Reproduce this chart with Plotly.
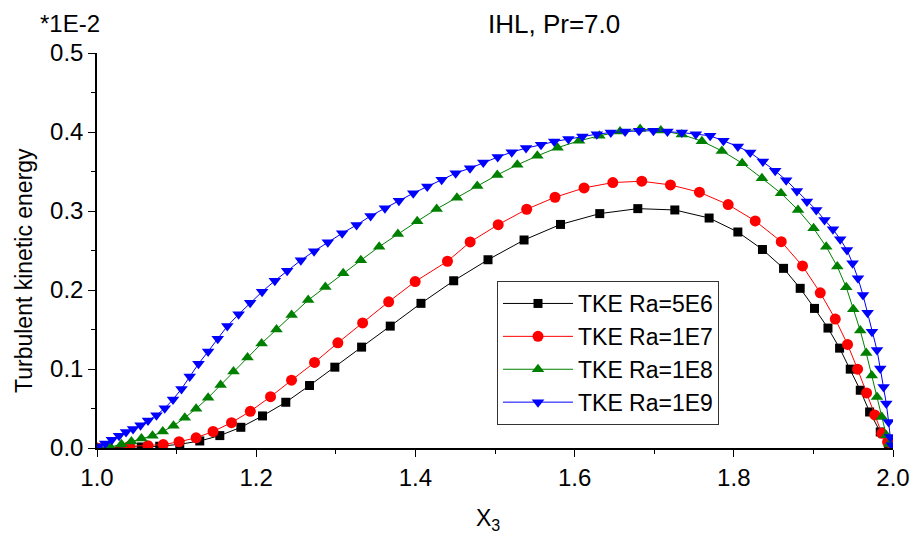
import plotly.graph_objects as go

# Turbulent kinetic energy profiles (units of 1E-2) across the layer, IHL case, Pr = 7.0
x_ra5e6 = [1.0, 1.0558, 1.0788, 1.1040, 1.1291, 1.1543, 1.1807, 1.2079, 1.2372, 1.2670,
           1.2988, 1.3324, 1.3684, 1.4070, 1.4481, 1.4912, 1.5365, 1.5823, 1.6316, 1.6794,
           1.7259, 1.7690, 1.8051, 1.8360, 1.8625, 1.8834, 1.9014, 1.9183, 1.9329, 1.9463,
           1.9589, 1.9706, 1.9840, 1.9945, 2.0]
tke_ra5e6 = [0.0, 0.0013, 0.0022, 0.0047, 0.0089, 0.0157, 0.0262, 0.0406, 0.0579, 0.0791,
             0.1023, 0.1277, 0.1543, 0.1831, 0.2117, 0.2383, 0.2633, 0.2830, 0.2967, 0.3030,
             0.3013, 0.2911, 0.2734, 0.2513, 0.2274, 0.2021, 0.1767, 0.1518, 0.1264, 0.0998,
             0.0731, 0.0456, 0.0203, 0.0056, 0.0]

x_ra1e7 = [1.0, 1.0411, 1.0641, 1.0832, 1.1031, 1.1245, 1.1458, 1.1690, 1.1926, 1.2180,
           1.2444, 1.2733, 1.3026, 1.3337, 1.3664, 1.3997, 1.4403, 1.4688, 1.5040, 1.5398,
           1.5754, 1.6119, 1.6480, 1.6844, 1.7204, 1.7568, 1.7929, 1.8269, 1.8596, 1.8863,
           1.9086, 1.9275, 1.9429, 1.9555, 1.9668, 1.9771, 1.9859, 1.9932, 2.0]
tke_ra1e7 = [0.0, 0.0025, 0.0030, 0.0043, 0.0079, 0.0129, 0.0209, 0.0321, 0.0465, 0.0649,
             0.0858, 0.1083, 0.1331, 0.1583, 0.1851, 0.2107, 0.2364, 0.2608, 0.2827, 0.3022,
             0.3174, 0.3292, 0.3360, 0.3377, 0.3330, 0.3238, 0.3081, 0.2874, 0.2612, 0.2304,
             0.1965, 0.1632, 0.1311, 0.0998, 0.0697, 0.0418, 0.0186, 0.0076, 0.0]

x_ra1e8 = [1.0, 1.0168, 1.0307, 1.0432, 1.0558, 1.0697, 1.0826, 1.0961, 1.1103, 1.1245,
           1.1396, 1.1553, 1.1715, 1.1891, 1.2068, 1.2255, 1.2445, 1.2653, 1.2869, 1.3093,
           1.3315, 1.3545, 1.3780, 1.4023, 1.4267, 1.4522, 1.4777, 1.5029, 1.5280, 1.5532,
           1.5786, 1.6056, 1.6311, 1.6571, 1.6823, 1.7083, 1.7347, 1.7599, 1.7850, 1.8105,
           1.8353, 1.8593, 1.8807, 1.9002, 1.9161, 1.9300, 1.9413, 1.9501, 1.9589, 1.9664,
           1.9733, 1.9799, 1.9859, 1.9916, 1.9953, 2.0]
tke_ra1e8 = [0.0, 0.0013, 0.0047, 0.0082, 0.0119, 0.0155, 0.0208, 0.0281, 0.0383, 0.0497,
             0.0636, 0.0797, 0.0969, 0.1146, 0.1324, 0.1501, 0.1682, 0.1872, 0.2037, 0.2211,
             0.2376, 0.2548, 0.2709, 0.2870, 0.3026, 0.3169, 0.3318, 0.3457, 0.3584, 0.3698,
             0.3802, 0.3888, 0.3952, 0.4006, 0.4037, 0.4019, 0.3968, 0.3884, 0.3761, 0.3606,
             0.3415, 0.3225, 0.3013, 0.2781, 0.2548, 0.2297, 0.2034, 0.1756, 0.1486, 0.1201,
             0.0918, 0.0647, 0.0393, 0.0161, 0.0051, 0.0]

x_ra1e9 = [1.0021, 1.0103, 1.0187, 1.0277, 1.0365, 1.0453, 1.0547, 1.0641, 1.0747, 1.0851,
           1.0955, 1.1061, 1.1165, 1.1275, 1.1396, 1.1517, 1.1637, 1.1779, 1.1924, 1.2074,
           1.2234, 1.2389, 1.2561, 1.2727, 1.2900, 1.3080, 1.3261, 1.3437, 1.3617, 1.3793,
           1.3973, 1.4149, 1.4330, 1.4506, 1.4686, 1.4853, 1.5034, 1.5210, 1.5390, 1.5578,
           1.5744, 1.5922, 1.6098, 1.6279, 1.6455, 1.6634, 1.6810, 1.6990, 1.7166, 1.7347,
           1.7523, 1.7703, 1.7870, 1.8051, 1.8206, 1.8366, 1.8520, 1.8658, 1.8793, 1.8919,
           1.9036, 1.9140, 1.9246, 1.9337, 1.9422, 1.9492, 1.9560, 1.9623, 1.9681, 1.9736,
           1.9799, 1.9840, 1.9882, 1.9916, 1.9945, 1.9966, 1.9987]
tke_ra1e9 = [0.0019, 0.0056, 0.0103, 0.0155, 0.0203, 0.0242, 0.0288, 0.0349, 0.0415, 0.0503,
             0.0615, 0.0748, 0.0905, 0.1065, 0.1222, 0.1384, 0.1543, 0.1692, 0.1838, 0.1978,
             0.2117, 0.2244, 0.2376, 0.2491, 0.2604, 0.2718, 0.2823, 0.2937, 0.3035, 0.3131,
             0.3225, 0.3309, 0.3394, 0.3479, 0.3542, 0.3613, 0.3682, 0.3745, 0.3796, 0.3838,
             0.3879, 0.3910, 0.3943, 0.3973, 0.3993, 0.4006, 0.4015, 0.4015, 0.4006, 0.3993,
             0.3973, 0.3952, 0.3888, 0.3816, 0.3740, 0.3626, 0.3508, 0.3390, 0.3254, 0.3119,
             0.3013, 0.2887, 0.2769, 0.2642, 0.2506, 0.2338, 0.2148, 0.1936, 0.1711, 0.1471,
             0.1239, 0.1007, 0.0773, 0.0563, 0.0330, 0.0139, 0.0034]

x_ticks = [1.0, 1.2, 1.4, 1.6, 1.8, 2.0]
x_tick_text = ["1.0", "1.2", "1.4", "1.6", "1.8", "2.0"]
y_ticks = [0.0, 0.1, 0.2, 0.3, 0.4, 0.5]
y_tick_text = ["0.0", "0.1", "0.2", "0.3", "0.4", "0.5"]

series = [
    ("TKE Ra=5E6", x_ra5e6, tke_ra5e6, "#000000", "square", 9),
    ("TKE Ra=1E7", x_ra1e7, tke_ra1e7, "#ff0000", "circle", 11),
    ("TKE Ra=1E8", x_ra1e8, tke_ra1e8, "#008000", "triangle-up", 11),
    ("TKE Ra=1E9", x_ra1e9, tke_ra1e9, "#0000ff", "triangle-down", 11),
]

FONT = "Liberation Sans, Arial, sans-serif"
W, H = 913, 534
M_L, M_R, M_T, M_B = 97, 20, 53, 86
PLOT_W = W - M_L - M_R
PLOT_H = H - M_T - M_B


def px_to_paper(px, py):
    """Pixel position on the page -> paper coordinates of the plot area."""
    return (px - M_L) / PLOT_W, 1 - (py - M_T) / PLOT_H


fig = go.Figure()
for name, xs, ys, color, symbol, size in series:
    fig.add_trace(go.Scatter(
        x=xs, y=ys, name=name, mode="lines+markers",
        line=dict(color=color, width=1),
        marker=dict(symbol=symbol, size=size, color=color, line=dict(width=0)),
    ))

axis_common = dict(
    showline=True, linecolor="black", linewidth=1.5, mirror=False,
    showgrid=False, zeroline=False, automargin=False,
    ticks="outside", ticklen=7, tickwidth=1.3, tickcolor="black",
    tickfont=dict(family=FONT, size=24, color="black"),
)

fig.update_xaxes(
    range=[1.0, 2.0], tickvals=x_ticks, ticktext=x_tick_text,
    minor=dict(dtick=0.1, ticks="outside", ticklen=4, tickwidth=1.3, tickcolor="black"),
    **axis_common,
)
fig.update_yaxes(
    range=[0.0, 0.5], tickvals=y_ticks, ticktext=y_tick_text,
    minor=dict(dtick=0.05, ticks="outside", ticklen=4, tickwidth=1.3, tickcolor="black"),
    **axis_common,
)

labels = [
    # text, pixel x, pixel y, size, angle, xanchor
    ("IHL, Pr=7.0", 554, 24, 26, 0, "center"),
    ("*1E-2", 102, 23, 24, 0, "right"),
    ("Turbulent kinetic energy", 24, 271, 23, -90, "center"),
    ("X<sub>3</sub>", 488, 519, 23, 0, "center"),
]
annotations = []
for text, px, py, size, angle, xanchor in labels:
    ax, ay = px_to_paper(px, py)
    annotations.append(dict(
        text=text, x=ax, y=ay, xref="paper", yref="paper",
        xanchor=xanchor, yanchor="middle", textangle=angle, showarrow=False,
        font=dict(family=FONT, size=size, color="black"),
    ))

lx, ly = px_to_paper(497, 281)

fig.update_layout(
    width=W, height=H,
    margin=dict(l=M_L, r=M_R, t=M_T, b=M_B, autoexpand=False),
    paper_bgcolor="white", plot_bgcolor="white",
    font=dict(family=FONT, size=24, color="black"),
    showlegend=True,
    legend=dict(
        x=lx, y=ly, xanchor="left", yanchor="top",
        bgcolor="white", bordercolor="#333333", borderwidth=1,
        font=dict(family=FONT, size=23, color="black"),
        itemwidth=70,
    ),
    annotations=annotations,
)

fig.write_html("out.html")
